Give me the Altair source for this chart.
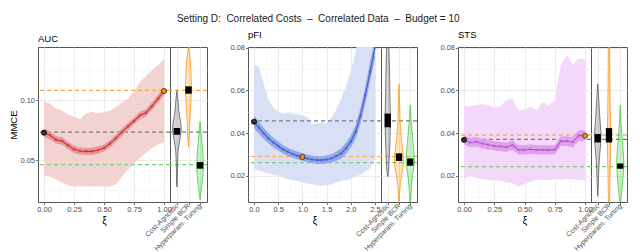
import altair as alt
import pandas as pd

FONT = "Liberation Sans"

# ---------------- data ----------------
NB = "\u00a0"
MAIN_TITLE = ("Setting D:" + NB + " Correlated Costs " + NB + "\u2013" + NB + " Correlated Data "
              + NB + "\u2013" + NB + " Budget = 10")
PANELS = ["AUC", "pFI", "STS"]
CATS = ["Cost-Agnostic", "Simple BCR", "Hyperparam. Tuning"]

# AUC line panel
auc_xi = [0.00, 0.05, 0.10, 0.15, 0.20, 0.25, 0.30, 0.35, 0.40, 0.45, 0.50,
          0.55, 0.60, 0.65, 0.70, 0.75, 0.80, 0.85, 0.90, 0.95, 1.00]
auc_mean = [0.0728, 0.0706, 0.0669, 0.0658, 0.0622, 0.0589, 0.0575, 0.0572, 0.0572, 0.0583, 0.0600,
            0.0636, 0.0683, 0.0733, 0.0781, 0.0825, 0.0872, 0.0894, 0.0950, 0.1011, 0.1075]
auc_se = [0.0035, 0.0033, 0.0032, 0.0031, 0.0030, 0.0030, 0.0030, 0.0030, 0.0030, 0.0030, 0.0030,
          0.0030, 0.0030, 0.0030, 0.0030, 0.0030, 0.0031, 0.0031, 0.0032, 0.0033, 0.0034]
auc_lo = [0.037, 0.036, 0.034, 0.031, 0.029, 0.028, 0.028, 0.028, 0.028, 0.028, 0.028,
          0.028, 0.030, 0.036, 0.042, 0.047, 0.052, 0.056, 0.060, 0.063, 0.065]
auc_hi = [0.099, 0.097, 0.093, 0.091, 0.088, 0.086, 0.084, 0.089, 0.090, 0.089, 0.090,
          0.091, 0.094, 0.098, 0.101, 0.107, 0.115, 0.120, 0.125, 0.129, 0.134]

# pFI line panel
pfi_xi = [0.0, 0.1, 0.2, 0.3, 0.4, 0.5, 0.6, 0.7, 0.8, 0.9, 1.0, 1.1, 1.2,
          1.3, 1.4, 1.5, 1.6, 1.7, 1.8, 1.9, 2.0, 2.1, 2.2, 2.3, 2.4, 2.5]
pfi_mean = [0.0453, 0.0425, 0.0398, 0.0375, 0.0356, 0.0339, 0.0323, 0.0312, 0.0302, 0.0294, 0.0288, 0.0281, 0.0276,
            0.0273, 0.0273, 0.0276, 0.0281, 0.0292, 0.0304, 0.0328, 0.0360, 0.0405, 0.0480, 0.0577, 0.0688, 0.0800]
pfi_se = [0.0030, 0.0028, 0.0026, 0.0024, 0.0022, 0.0021, 0.0020, 0.0019, 0.0018, 0.0018, 0.0018, 0.0018, 0.0018,
          0.0018, 0.0018, 0.0019, 0.0020, 0.0022, 0.0024, 0.0026, 0.0029, 0.0032, 0.0036, 0.0040, 0.0045, 0.0050]
pfi_lo = [0.0232, 0.0225, 0.0218, 0.0210, 0.0205, 0.0200, 0.0192, 0.0185, 0.0180, 0.0175, 0.0170, 0.0165, 0.0160,
          0.0155, 0.0153, 0.0155, 0.0160, 0.0168, 0.0175, 0.0180, 0.0185, 0.0195, 0.0205, 0.0220, 0.0235, 0.0280]
pfi_hi = [0.0718, 0.0710, 0.0630, 0.0555, 0.0520, 0.0500, 0.0490, 0.0495, 0.0490, 0.0490, 0.0480, 0.0475, 0.0440,
          0.0445, 0.0450, 0.0445, 0.0470, 0.0510, 0.0560, 0.0620, 0.0690, 0.0780, 0.0900, 0.1000, 0.1000, 0.1000]

# STS line panel
sts_xi = [0.00, 0.05, 0.10, 0.15, 0.20, 0.25, 0.30, 0.35, 0.40, 0.45, 0.50,
          0.55, 0.60, 0.65, 0.70, 0.75, 0.80, 0.85, 0.90, 0.95, 1.00]
sts_mean = [0.0368, 0.0356, 0.0359, 0.0351, 0.0345, 0.0340, 0.0337, 0.0334, 0.0343, 0.0321, 0.0321,
            0.0324, 0.0321, 0.0321, 0.0321, 0.0321, 0.0362, 0.0362, 0.0358, 0.0389, 0.0387]
sts_se = [0.0022, 0.0022, 0.0022, 0.0022, 0.0022, 0.0022, 0.0022, 0.0022, 0.0022, 0.0022, 0.0022,
          0.0022, 0.0022, 0.0022, 0.0022, 0.0022, 0.0023, 0.0023, 0.0024, 0.0025, 0.0025]
sts_lo = [0.0185, 0.0200, 0.0190, 0.0185, 0.0180, 0.0178, 0.0178, 0.0170, 0.0165, 0.0148, 0.0160,
          0.0172, 0.0180, 0.0182, 0.0180, 0.0183, 0.0180, 0.0185, 0.0182, 0.0180, 0.0178]
sts_hi = [0.0525, 0.0525, 0.0530, 0.0535, 0.0530, 0.0520, 0.0525, 0.0555, 0.0560, 0.0505, 0.0510,
          0.0525, 0.0505, 0.0545, 0.0530, 0.0550, 0.0720, 0.0765, 0.0720, 0.0750, 0.0745]

# medians (dashed reference lines) per method
auc_med = [0.0733, 0.1080, 0.0461]
pfi_med = [0.0457, 0.0290, 0.0261]
sts_med = [0.0370, 0.0390, 0.0243]

# box (q1, q3) per method
auc_q1 = [0.0711, 0.1053, 0.0428]
auc_q3 = [0.0767, 0.1114, 0.0483]
pfi_q1 = [0.0427, 0.0269, 0.0247]
pfi_q3 = [0.0491, 0.0305, 0.0281]
sts_q1 = [0.0356, 0.0356, 0.0233]
sts_q3 = [0.0395, 0.0423, 0.0257]

# violin profiles (value, density) per method
auc_ca_y = [0.108, 0.100, 0.090, 0.085, 0.080, 0.075, 0.070, 0.065, 0.060, 0.055, 0.050, 0.045, 0.040, 0.035, 0.030, 0.0275]
auc_ca_d = [0.0, 1.0, 2.0, 3.0, 4.0, 4.3, 3.5, 2.5, 1.5, 1.0, 0.8, 0.6, 0.5, 0.4, 0.3, 0.0]
auc_bcr_y = [0.146, 0.135, 0.125, 0.115, 0.108, 0.100, 0.090, 0.080, 0.070, 0.061]
auc_bcr_d = [0.0, 1.5, 2.5, 2.8, 3.0, 2.5, 1.8, 1.2, 0.7, 0.0]
auc_tun_y = [0.082, 0.075, 0.068, 0.060, 0.052, 0.045, 0.038, 0.030, 0.025, 0.020, 0.017]
auc_tun_d = [0.0, 0.8, 1.5, 2.3, 3.0, 3.2, 3.0, 2.0, 1.2, 0.5, 0.0]

pfi_ca_y = [0.090, 0.082, 0.075, 0.065, 0.055, 0.048, 0.040, 0.033, 0.027, 0.022, 0.0196]
pfi_ca_d = [1.0, 1.0, 1.5, 2.0, 2.3, 2.7, 2.5, 2.0, 1.5, 0.8, 0.0]
pfi_bcr_y = [0.063, 0.055, 0.045, 0.038, 0.033, 0.029, 0.025, 0.021, 0.017, 0.013, 0.008, 0.004]
pfi_bcr_d = [0.0, 0.5, 1.2, 2.3, 3.5, 4.7, 4.5, 3.0, 1.5, 0.8, 0.3, 0.0]
pfi_tun_y = [0.053, 0.047, 0.040, 0.035, 0.030, 0.026, 0.022, 0.018, 0.013, 0.008, 0.004]
pfi_tun_d = [0.0, 0.8, 2.0, 3.0, 4.0, 4.2, 3.0, 1.8, 1.0, 0.4, 0.0]

sts_ca_y = [0.063, 0.058, 0.052, 0.046, 0.040, 0.035, 0.030, 0.025, 0.020, 0.015, 0.0104]
sts_ca_d = [0.0, 0.8, 1.5, 2.3, 3.3, 3.0, 2.0, 1.3, 0.8, 0.5, 0.0]
sts_bcr_y = [0.090, 0.070, 0.060, 0.050, 0.040, 0.030, 0.020, 0.010, 0.004]
sts_bcr_d = [0.6, 0.8, 1.0, 1.3, 1.8, 1.5, 1.0, 0.7, 0.5]
sts_tun_y = [0.053, 0.047, 0.042, 0.036, 0.030, 0.025, 0.020, 0.015, 0.010, 0.007, 0.004]
sts_tun_d = [0.0, 0.5, 1.2, 2.2, 3.3, 3.7, 3.0, 2.0, 1.0, 0.3, 0.0]

# ---------------- styles ----------------
CAT_COLORS = ["#4D4D4D", "#FF8C00", "#2EC72E"]
DASH_COLORS = ["#7A7A7A", "#FFA640", "#74D474"]
PANEL_COLORS = {
    "AUC": ("#D32F2F", "#F3D2D2", "#E49A9A"),
    "pFI": ("#3A5FCD", "#D9E0F5", "#93A8E6"),
    "STS": ("#C04FD6", "#F4D8F9", "#DFA2EA"),
}
GRID = "#EBEBEB"
MINOR = "#F4F4F4"
LABEL = "#4D4D4D"
DENS_TO_X = 1 / 11.5   # violin density -> category-axis units
BOX_HALF = 0.28
PLOT_H = 155


def line_df(xi, mean, se, lo, hi):
    return pd.DataFrame({
        "xi": xi, "mean": mean,
        "ci_lo": [m - s for m, s in zip(mean, se)],
        "ci_hi": [m + s for m, s in zip(mean, se)],
        "lo": lo, "hi": hi,
    })


def med_df(meds):
    return pd.DataFrame({"cat": CATS, "med": meds})


def box_df(q1, q3):
    return pd.DataFrame({"cat": CATS, "idx": [1, 2, 3], "q1": q1, "q3": q3})


def violin_df(profiles):
    rows = []
    for i, (ys, ds) in enumerate(profiles):
        for y, d in sorted(zip(ys, ds)):
            rows.append({"cat": CATS[i], "idx": i + 1, "y": y, "d": d})
    return pd.DataFrame(rows)


def dashed_layers(mdf, ys):
    layers = []
    for i, c in enumerate(CATS):
        layers.append(
            alt.Chart(mdf).transform_filter(alt.datum.cat == c).mark_rule(
                strokeDash=[4, 3], strokeWidth=1.2, color=DASH_COLORS[i]
            ).encode(y=alt.Y("med:Q", scale=ys, axis=None))
        )
    return layers


def line_view(name, df, mdf, xdom, ydom, xmaj, xmin, ymaj, ymin, xfmt, width, ytitle):
    line_c, outer_c, inner_c = PANEL_COLORS[name]
    xs = alt.Scale(domain=xdom, nice=False, zero=False)
    ys = alt.Scale(domain=ydom, nice=False, zero=False)
    base = alt.Chart(df)
    minor = base.mark_point(opacity=0).encode(
        x=alt.X("xi:Q", scale=xs, axis=alt.Axis(orient="top", values=xmin, labels=False, ticks=False,
                                                 domain=False, grid=True, gridColor=MINOR, gridWidth=0.6, title=None)),
        y=alt.Y("mean:Q", scale=ys, axis=alt.Axis(orient="right", values=ymin, labels=False, ticks=False,
                                                   domain=False, grid=True, gridColor=MINOR, gridWidth=0.6, title=None)),
    )
    outer = base.mark_area(color=outer_c, clip=True).encode(
        x=alt.X("xi:Q", scale=xs, axis=alt.Axis(orient="bottom", values=xmaj, format=xfmt, title="\u03be",
                                                 grid=True, gridColor=GRID)),
        y=alt.Y("lo:Q", scale=ys, axis=alt.Axis(orient="left", values=ymaj, format=".2f", title=ytitle,
                                                 grid=True, gridColor=GRID, titleFontSize=9.5, titlePadding=1)),
        y2="hi:Q",
    )
    inner = base.mark_area(color=inner_c, clip=True).encode(
        x=alt.X("xi:Q", scale=xs, axis=None),
        y=alt.Y("ci_lo:Q", scale=ys, axis=None),
        y2="ci_hi:Q",
    )
    line = base.mark_line(color=line_c, strokeWidth=1.1, clip=True).encode(
        x=alt.X("xi:Q", scale=xs, axis=None),
        y=alt.Y("mean:Q", scale=ys, axis=None),
    )
    pts = base.mark_square(color=line_c, size=5, clip=True).encode(
        x=alt.X("xi:Q", scale=xs, axis=None),
        y=alt.Y("mean:Q", scale=ys, axis=None),
    )
    start = base.transform_filter("datum.xi == 0").mark_point(
        shape="circle", filled=True, size=26, fill="#333333", stroke="black", strokeWidth=0.8, opacity=1
    ).encode(x=alt.X("xi:Q", scale=xs, axis=None), y=alt.Y("mean:Q", scale=ys, axis=None))
    bcr = base.transform_filter("datum.xi == 1").mark_point(
        shape="circle", filled=True, size=26, fill="#FF8C00", stroke="#333333", strokeWidth=0.9, opacity=1
    ).encode(x=alt.X("xi:Q", scale=xs, axis=None), y=alt.Y("mean:Q", scale=ys, axis=None))
    layers = [minor, outer] + dashed_layers(mdf, ys) + [inner, line, pts, start, bcr]
    return alt.layer(*layers).resolve_axis(
        x="independent", y="independent"
    ).properties(
        width=width, height=PLOT_H,
        title=alt.TitleParams(name, anchor="start", frame="group", fontSize=9.5, fontWeight="normal",
                              font=FONT, color="black", offset=4),
    )


def violin_view(vdf, bdf, mdf, ydom, ymaj, ymin, width):
    xs = alt.Scale(domain=[0.4, 3.6], nice=False, zero=False)
    ys = alt.Scale(domain=ydom, nice=False, zero=False)
    label_expr = "[" + ",".join("'%s'" % c for c in CATS) + "][datum.value - 1]"
    minor = alt.Chart(mdf).mark_point(opacity=0).encode(
        y=alt.Y("med:Q", scale=ys, axis=alt.Axis(orient="right", values=ymin, labels=False, ticks=False,
                                                  domain=False, grid=True, gridColor=MINOR, gridWidth=0.6, title=None)),
    )
    vio = alt.Chart(vdf).transform_calculate(
        xl="datum.idx - datum.d * %f" % DENS_TO_X,
        xr="datum.idx + datum.d * %f" % DENS_TO_X,
    ).mark_area(orient="horizontal", fillOpacity=0.25, strokeWidth=0.7, clip=True).encode(
        y=alt.Y("y:Q", scale=ys, axis=alt.Axis(orient="left", values=ymaj, labels=False, ticks=False,
                                                domain=False, grid=True, gridColor=GRID, title=None)),
        x=alt.X("xl:Q", scale=xs, axis=alt.Axis(orient="bottom", values=[1, 2, 3], labelExpr=label_expr,
                                                 labelAngle=-45, labelAlign="right", labelBaseline="middle",
                                                 labelOverlap=False, labelBound=False, labelFlush=False,
                                                 labelPadding=0, labelFontSize=7,
                                                 grid=True, gridColor=GRID, title=None)),
        x2="xr:Q",
        fill=alt.Fill("cat:N", scale=alt.Scale(domain=CATS, range=CAT_COLORS), legend=None),
        stroke=alt.Stroke("cat:N", scale=alt.Scale(domain=CATS, range=CAT_COLORS), legend=None),
        detail="cat:N",
    )
    box = alt.Chart(bdf).transform_calculate(
        bl="datum.idx - %f" % BOX_HALF, br="datum.idx + %f" % BOX_HALF
    ).mark_rect(color="black").encode(
        x=alt.X("bl:Q", scale=xs, axis=None), x2="br:Q",
        y=alt.Y("q1:Q", scale=ys, axis=None), y2="q3:Q",
    )
    layers = [minor] + dashed_layers(mdf, ys) + [vio, box]
    return alt.layer(*layers).resolve_axis(x="independent", y="independent").properties(
        width=width, height=PLOT_H
    )


auc_y = [0.015, 0.1442]
pf_y = [0.0077, 0.0803]

g1 = alt.hconcat(
    line_view("AUC", line_df(auc_xi, auc_mean, auc_se, auc_lo, auc_hi), med_df(auc_med),
              [-0.05, 1.05], auc_y, [0, 0.25, 0.5, 0.75, 1.0], [0.125, 0.375, 0.625, 0.875],
              [0.05, 0.10], [0.025, 0.075, 0.125], ".2f", 132, "MMCE"),
    violin_view(violin_df([(auc_ca_y, auc_ca_d), (auc_bcr_y, auc_bcr_d), (auc_tun_y, auc_tun_d)]),
                box_df(auc_q1, auc_q3), med_df(auc_med), auc_y, [0.05, 0.10], [0.025, 0.075, 0.125], 37),
    spacing=0, bounds="flush",
)
g2 = alt.hconcat(
    line_view("pFI", line_df(pfi_xi, pfi_mean, pfi_se, pfi_lo, pfi_hi), med_df(pfi_med),
              [-0.125, 2.625], pf_y, [0, 0.5, 1.0, 1.5, 2.0, 2.5], [0.25, 0.75, 1.25, 1.75, 2.25],
              [0.02, 0.04, 0.06, 0.08], [0.01, 0.03, 0.05, 0.07], ".1f", 133, None),
    violin_view(violin_df([(pfi_ca_y, pfi_ca_d), (pfi_bcr_y, pfi_bcr_d), (pfi_tun_y, pfi_tun_d)]),
                box_df(pfi_q1, pfi_q3), med_df(pfi_med), pf_y, [0.02, 0.04, 0.06, 0.08], [0.01, 0.03, 0.05, 0.07], 36),
    spacing=0, bounds="flush",
)
g3 = alt.hconcat(
    line_view("STS", line_df(sts_xi, sts_mean, sts_se, sts_lo, sts_hi), med_df(sts_med),
              [-0.05, 1.05], pf_y, [0, 0.25, 0.5, 0.75, 1.0], [0.125, 0.375, 0.625, 0.875],
              [0.02, 0.04, 0.06, 0.08], [0.01, 0.03, 0.05, 0.07], ".2f", 133, None),
    violin_view(violin_df([(sts_ca_y, sts_ca_d), (sts_bcr_y, sts_bcr_d), (sts_tun_y, sts_tun_d)]),
                box_df(sts_q1, sts_q3), med_df(sts_med), pf_y, [0.02, 0.04, 0.06, 0.08], [0.01, 0.03, 0.05, 0.07], 36),
    spacing=0, bounds="flush",
)

chart = alt.hconcat(g1, g2, g3, spacing=20).properties(
    title=alt.TitleParams(MAIN_TITLE, anchor="middle", fontSize=10, fontWeight="normal",
                          font=FONT, color="#1A1A1A", offset=6),
    padding={"left": 0, "top": 5, "right": 0, "bottom": 1},
).configure(font=FONT).configure_view(
    stroke="#555555", strokeWidth=1
).configure_axis(
    labelFont=FONT, labelFontSize=7.5, labelColor=LABEL, labelPadding=1,
    tickColor="#444444", tickSize=2.5, tickWidth=0.8,
    titleFont=FONT, titleFontSize=10, titleFontWeight="normal", titleColor="black", titlePadding=2,
    domain=False,
)

chart.save("out.html", embed_options={"renderer": "svg", "actions": False})
